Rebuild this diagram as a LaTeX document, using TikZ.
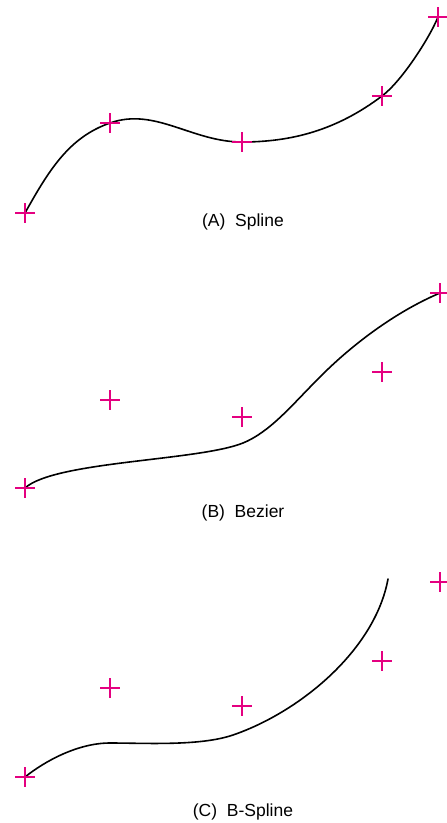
\documentclass[tikz,border=0pt]{standalone}
\usepackage{fontspec}
\setmainfont{Liberation Sans}
\usetikzlibrary{calc}
\definecolor{mag}{RGB}{228,0,128}
\begin{document}
\begin{tikzpicture}[x=1pt,y=-1pt,
  crossmark/.style={draw=mag,line width=1.6pt},
  curve/.style={draw=black,line width=1.6pt,line cap=round},
  caption/.style={font=\fontsize{17.5}{20}\selectfont,inner sep=0pt}]
\useasboundingbox (0,0) rectangle (447,823);
% control points
\coordinate (a1) at (25,213);  \coordinate (a2) at (110,123); \coordinate (a3) at (242,142);
\coordinate (a4) at (382,96);  \coordinate (a5) at (438,17);
\coordinate (b1) at (25,488);  \coordinate (b2) at (110,400); \coordinate (b3) at (242,417);
\coordinate (b4) at (382,372); \coordinate (b5) at (440,293);
\coordinate (c1) at (25,777);  \coordinate (c2) at (110,688); \coordinate (c3) at (242,706);
\coordinate (c4) at (382,661); \coordinate (c5) at (440,582);
\coordinate (cend) at (388,579);
% curves
\draw[curve] (a1) .. controls (50,168) and (70,137) .. (a2)
  .. controls (155,107) and (192,142) .. (a3)
  .. controls (292,142) and (337,130) .. (a4)
  .. controls (402,81) and (430,37) .. (a5);
\draw[curve] (b1) .. controls (55,461) and (198,461) .. (243,443)
  .. controls (270,432) and (292,405) .. (317,380)
  .. controls (350,346) and (395,312) .. (b5);
\draw[curve] (c1) .. controls (45,761) and (78,743) .. (110,743)
  .. controls (145,743) and (200,746.3) .. (233,735)
  .. controls (300,712) and (375,650) .. (cend);
% crosses
\foreach \p in {a1,a2,a3,a4,a5,b1,b2,b3,b4,b5,c1,c2,c3,c4,c5}
  \draw[crossmark] ($(\p)+(-10,0)$) -- ($(\p)+(10,0)$) ($(\p)+(0,-10)$) -- ($(\p)+(0,10)$);
% captions
\node[caption] (la) at (243,222) {(A)\ \ Spline};
\node[caption] (lb) at (243,513) {(B)\ \ Bezier};
\node[caption] (lc) at (243,812) {(C)\ \ B-Spline};
\end{tikzpicture}
\end{document}
